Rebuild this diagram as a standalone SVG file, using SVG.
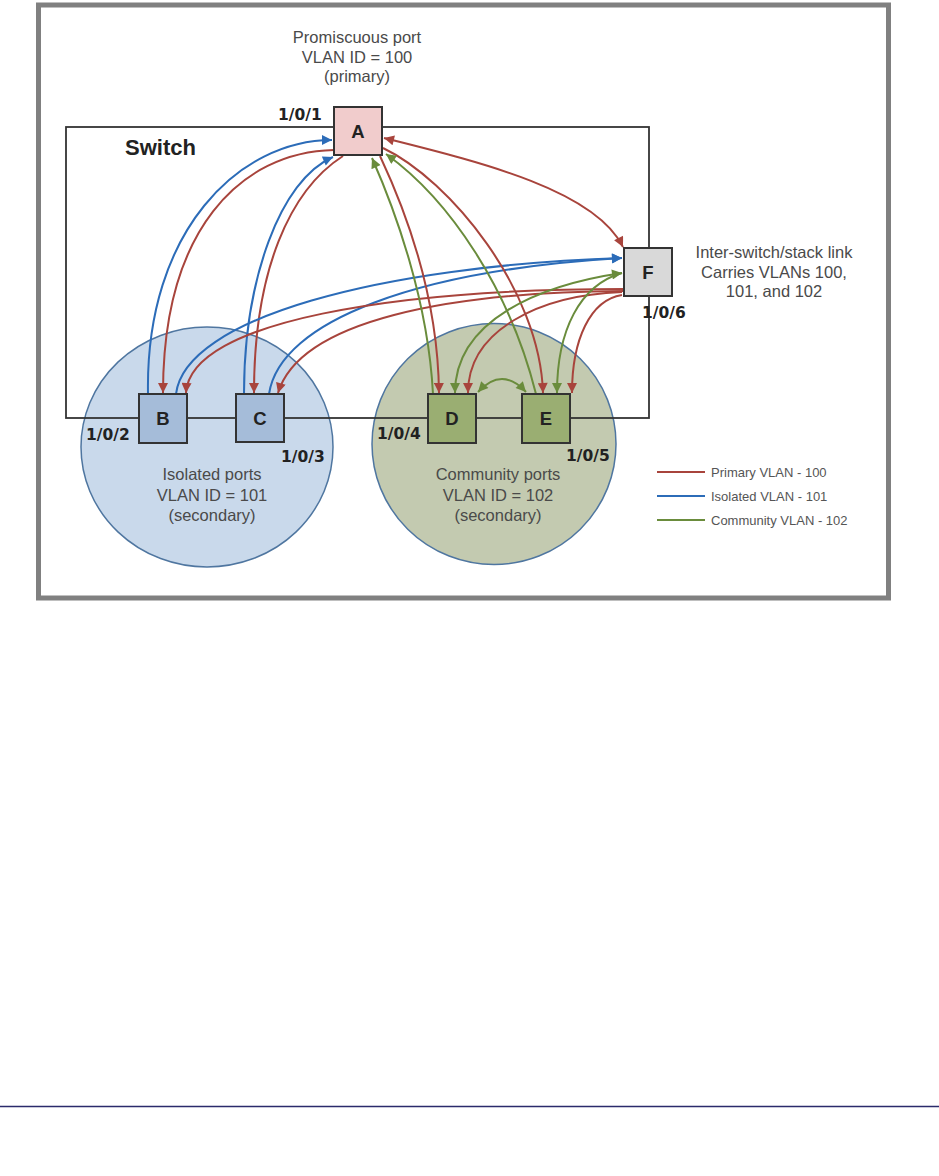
<svg xmlns="http://www.w3.org/2000/svg" width="939" height="1176" viewBox="0 0 939 1176">
<style>
.lbl{font-family:"Liberation Sans",Arial,sans-serif;font-size:16.5px;fill:#4a4a4a;text-anchor:middle}
.port{font-family:"DejaVu Sans",Verdana,sans-serif;font-size:15.5px;font-weight:bold;fill:#222}
.box{stroke:#333;stroke-width:2}
.boxt{font-family:"Liberation Sans",Arial,sans-serif;font-size:18.5px;font-weight:bold;fill:#222;text-anchor:middle}
.leg{font-family:"Liberation Sans",Arial,sans-serif;font-size:13px;fill:#555}
.r{fill:none;stroke:#a8443c;stroke-width:2}
.b{fill:none;stroke:#2c6cb8;stroke-width:2}
.g{fill:none;stroke:#6a8c3c;stroke-width:2}
</style>
<defs>
<marker id="mr" viewBox="0 0 10 10" refX="10" refY="5" markerWidth="13" markerHeight="10" markerUnits="userSpaceOnUse" orient="auto-start-reverse"><path d="M0,0 L10,5 L0,10 z" fill="#a8443c"/></marker>
<marker id="mb" viewBox="0 0 10 10" refX="10" refY="5" markerWidth="13" markerHeight="10" markerUnits="userSpaceOnUse" orient="auto-start-reverse"><path d="M0,0 L10,5 L0,10 z" fill="#2c6cb8"/></marker>
<marker id="mg" viewBox="0 0 10 10" refX="10" refY="5" markerWidth="13" markerHeight="10" markerUnits="userSpaceOnUse" orient="auto-start-reverse"><path d="M0,0 L10,5 L0,10 z" fill="#6a8c3c"/></marker>
</defs>
<rect width="939" height="1176" fill="#fff"/>
<rect id="frame" x="38.5" y="5" width="850" height="593" fill="none" stroke="#808080" stroke-width="5"/>
<g id="isolated-group">
<ellipse cx="207" cy="447" rx="126" ry="120" fill="#c9d9eb" stroke="#4f76a0" stroke-width="1.5"/>
<text class="lbl" x="212" y="480">Isolated ports</text>
<text class="lbl" x="212" y="501">VLAN ID = 101</text>
<text class="lbl" x="212" y="521">(secondary)</text>
</g>
<g id="community-group">
<ellipse cx="494" cy="444" rx="122" ry="120.5" fill="#c3cab0" stroke="#4f76a0" stroke-width="1.5"/>
<text class="lbl" x="498" y="480">Community ports</text>
<text class="lbl" x="498" y="501">VLAN ID = 102</text>
<text class="lbl" x="498" y="521">(secondary)</text>
</g>
<g id="switch">
<rect x="66" y="127" width="583" height="291" fill="none" stroke="#333" stroke-width="1.8"/>
<text x="125" y="155" font-family="Liberation Sans, Arial, sans-serif" font-size="22" font-weight="bold" fill="#222">Switch</text>
</g>
<g id="connectors">
<path class="b" d="M148,394 C145,230 240,140 332,140" marker-end="url(#mb)"/>
<path class="r" d="M334,150 C240,152 163,230 163,393" marker-end="url(#mr)"/>
<path class="b" d="M244,394 C244,280 280,180 333,157" marker-end="url(#mb)"/>
<path class="r" d="M343,156 C290,190 254,270 254,393" marker-end="url(#mr)"/>
<path class="b" d="M176,394 C185,318 380,266 622,258" marker-end="url(#mb)"/>
<path class="b" d="M269,394 C280,320 420,270 622,258" marker-end="url(#mb)"/>
<path class="r" d="M624,289 C400,289 190,320 186,393" marker-end="url(#mr)"/>
<path class="r" d="M624,291 C450,292 300,320 278,393" marker-end="url(#mr)"/>
<path class="r" d="M384,138 C480,162 595,190 623,247" marker-start="url(#mr)" marker-end="url(#mr)"/>
<path class="r" d="M380,156 C410,220 438,300 439,393" marker-end="url(#mr)"/>
<path class="g" d="M433,394 C428,300 395,210 372,158" marker-end="url(#mg)"/>
<path class="r" d="M383,148 C450,180 540,290 543,393" marker-end="url(#mr)"/>
<path class="g" d="M536,394 C510,290 450,200 386,154" marker-end="url(#mg)"/>
<path class="g" d="M455,393 C455,320 540,285 622,273" marker-start="url(#mg)" marker-end="url(#mg)"/>
<path class="r" d="M622,292 C540,295 468,330 468,393" marker-end="url(#mr)"/>
<path class="g" d="M557,393 C557,330 580,285 622,273" marker-start="url(#mg)"/>
<path class="r" d="M622,295 C590,300 572,340 572,393" marker-end="url(#mr)"/>
<path class="g" d="M478,392 Q502,366 526,392" marker-start="url(#mg)" marker-end="url(#mg)"/>
</g>
<g id="node-A">
<rect class="box" x="334" y="107" width="48" height="48" fill="#f1cccc"/>
<text class="boxt" x="358" y="137.5">A</text>
<text class="port" x="278" y="120">1/0/1</text>
<text class="lbl" x="357" y="43">Promiscuous port</text>
<text class="lbl" x="357" y="63">VLAN ID = 100</text>
<text class="lbl" x="357" y="82">(primary)</text>
</g>
<g id="node-B">
<rect class="box" x="139" y="394" width="48" height="49" fill="#a5bcd9"/>
<text class="boxt" x="163" y="425">B</text>
<text class="port" x="86" y="440">1/0/2</text>
</g>
<g id="node-C">
<rect class="box" x="236" y="394" width="48" height="48" fill="#a5bcd9"/>
<text class="boxt" x="260" y="425">C</text>
<text class="port" x="281" y="462">1/0/3</text>
</g>
<g id="node-D">
<rect class="box" x="428" y="394" width="48" height="49" fill="#9aae72"/>
<text class="boxt" x="452" y="425">D</text>
<text class="port" x="377" y="439">1/0/4</text>
</g>
<g id="node-E">
<rect class="box" x="522" y="394" width="48" height="49" fill="#9aae72"/>
<text class="boxt" x="546" y="425">E</text>
<text class="port" x="566" y="461">1/0/5</text>
</g>
<g id="node-F">
<rect class="box" x="624" y="248" width="48" height="48" fill="#d9d9d9"/>
<text class="boxt" x="648" y="279">F</text>
<text class="port" x="642" y="318">1/0/6</text>
<text class="lbl" x="774" y="258">Inter-switch/stack link</text>
<text class="lbl" x="774" y="278">Carries VLANs 100,</text>
<text class="lbl" x="774" y="297">101, and 102</text>
</g>
<g id="legend">
<line x1="657" y1="472" x2="705" y2="472" stroke="#a8443c" stroke-width="1.8"/>
<line x1="657" y1="496" x2="705" y2="496" stroke="#2c6cb8" stroke-width="1.8"/>
<line x1="657" y1="520" x2="705" y2="520" stroke="#6a8c3c" stroke-width="1.8"/>
<text class="leg" x="711" y="476.5">Primary VLAN - 100</text>
<text class="leg" x="711" y="500.5">Isolated VLAN - 101</text>
<text class="leg" x="711" y="524.5">Community VLAN - 102</text>
</g>
<line id="rule" x1="0" y1="1106.5" x2="939" y2="1106.5" stroke="#2b2b6b" stroke-width="1.5"/>
</svg>
